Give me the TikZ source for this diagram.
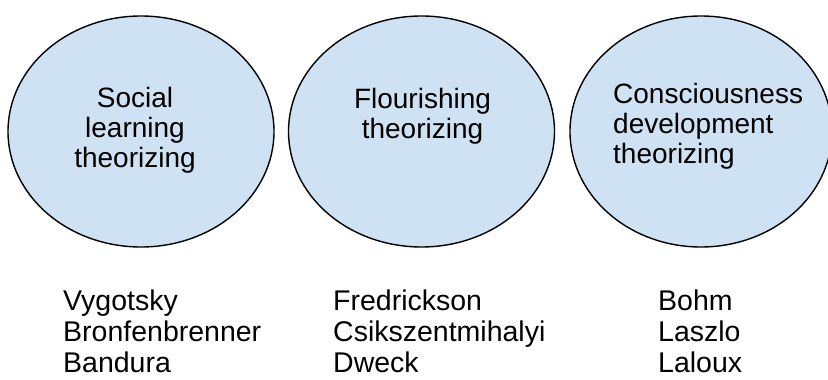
\documentclass[tikz,border=0pt]{standalone}
\usepackage{fontspec}
\setmainfont{Liberation Sans}
\usetikzlibrary{shapes.geometric}
\definecolor{bubblefill}{HTML}{CFE2F3}
\tikzset{
  bubble/.style={ellipse, draw=black, line width=1.4pt, fill=bubblefill,
    inner sep=0pt, minimum width=266pt, minimum height=231pt},
  bubbletext/.style={inner sep=0pt, anchor=base,
    font=\fontsize{28}{30}\selectfont},
  names/.style={inner sep=0pt, anchor=base west, align=left,
    font=\fontsize{28.5}{31}\selectfont}
}
\begin{document}
\begin{tikzpicture}[x=1pt, y=-1pt]
  \useasboundingbox (0,0) rectangle (828,380);
  % three theory bubbles
  \node[bubble] (social) at (141,131.5) {};
  \node[bubble] (flourish) at (421.5,131.5) {};
  \node[bubble, minimum width=262pt] (conscious) at (701,131.5) {};
  % bubble captions (anchored at the baseline of their last line)
  \node[bubbletext, align=center] (socialtxt) at (135,167) {Social\\learning\\theorizing};
  \node[bubbletext, align=center] (flourishtxt) at (422.5,138) {Flourishing\\theorizing};
  \node[bubbletext, anchor=base west, align=left] (conscioustxt) at (613,163) {Consciousness\\development\\theorizing};
  % key authors under each bubble
  \node[names] (socialnames) at (63,372) {Vygotsky\\Bronfenbrenner\\Bandura};
  \node[names] (flourishnames) at (333,372) {Fredrickson\\Csikszentmihalyi\\Dweck};
  \node[names] (consciousnames) at (658,372) {Bohm\\Laszlo\\Laloux};
\end{tikzpicture}
\end{document}
